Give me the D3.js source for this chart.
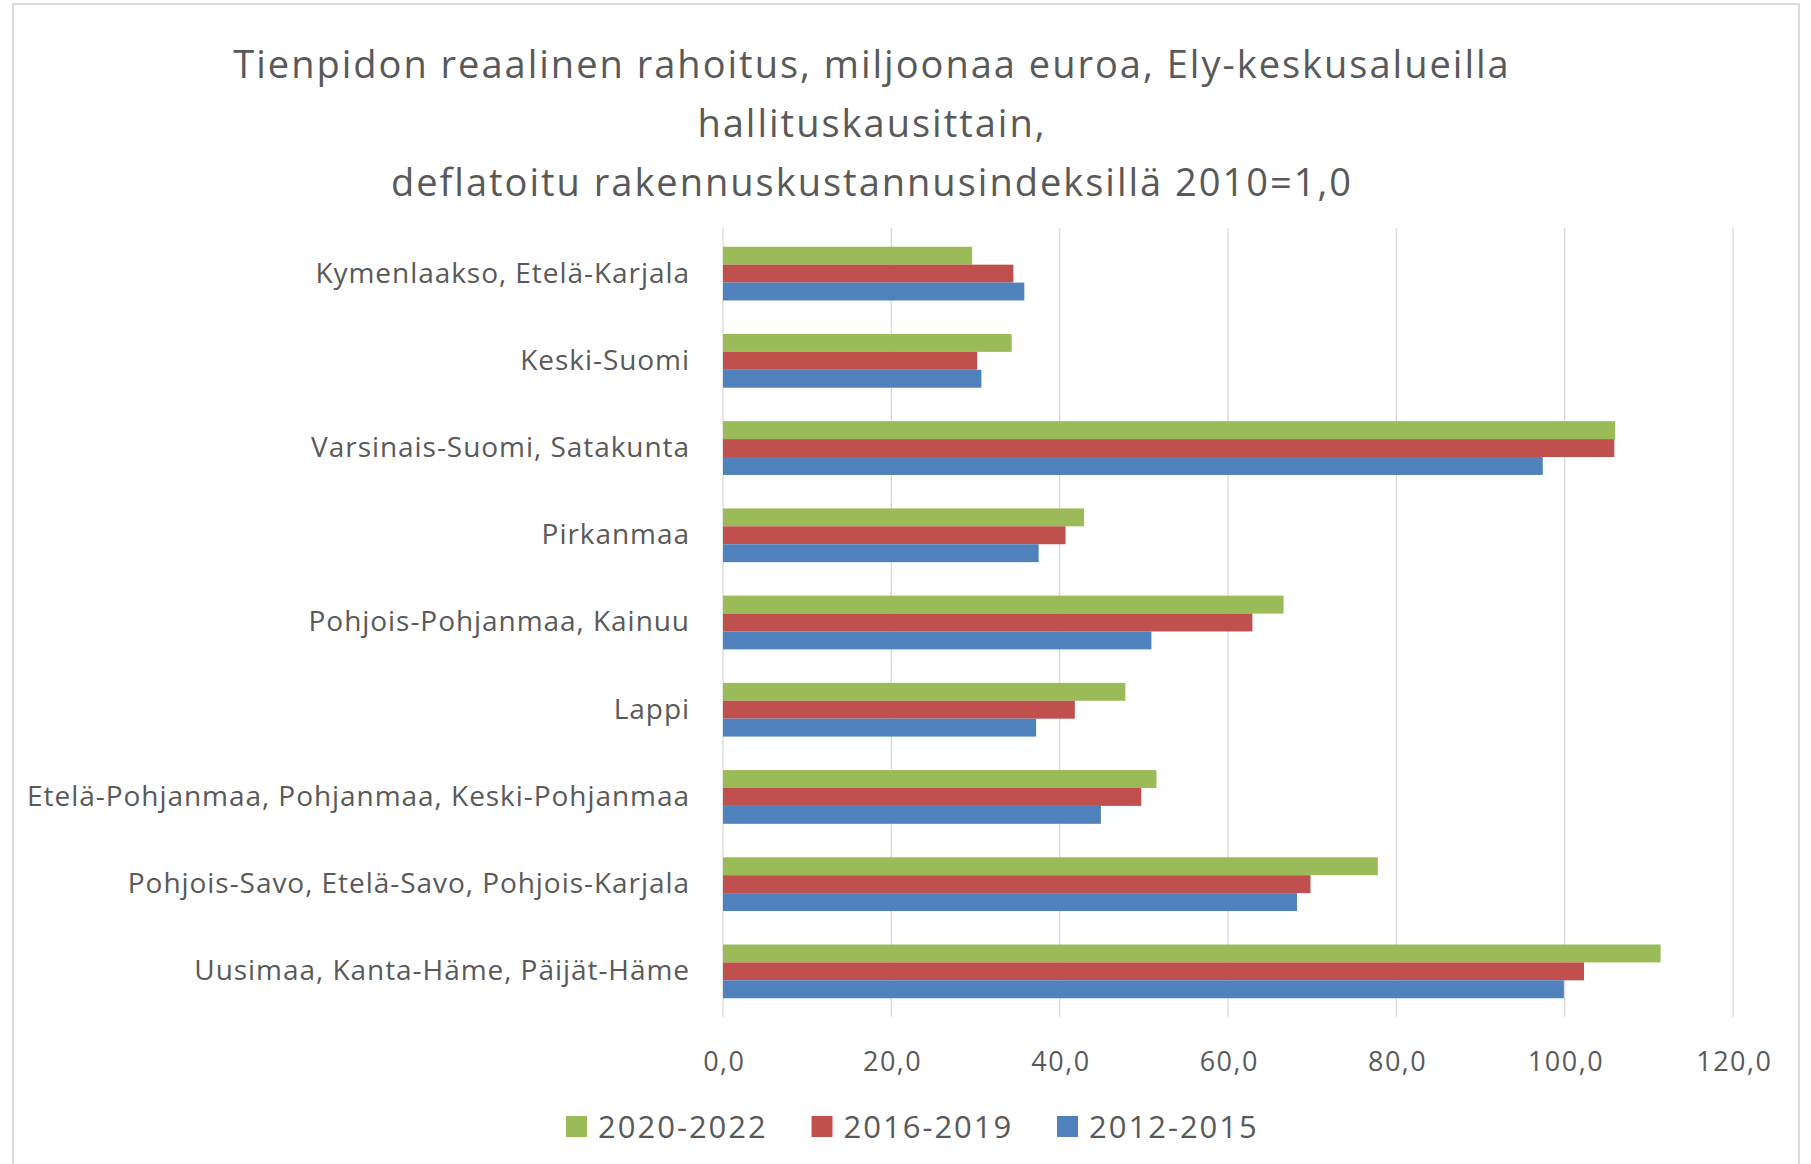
<!DOCTYPE html>
<html>
<head>
<meta charset="utf-8">
<script src="https://cdn.jsdelivr.net/npm/d3@7"></script>
<style>
  body { margin: 0; background: #fff; }
  text { font-family: "Open Sans", "Noto Sans", sans-serif; fill: #595959; }
</style>
</head>
<body>
<div id="chart"></div>
<script>
// data (top to bottom as drawn)
const categories = [
  "Kymenlaakso, Etelä-Karjala",
  "Keski-Suomi",
  "Varsinais-Suomi, Satakunta",
  "Pirkanmaa",
  "Pohjois-Pohjanmaa, Kainuu",
  "Lappi",
  "Etelä-Pohjanmaa, Pohjanmaa, Keski-Pohjanmaa",
  "Pohjois-Savo, Etelä-Savo, Pohjois-Karjala",
  "Uusimaa, Kanta-Häme, Päijät-Häme"
];
const series = ["2020-2022", "2016-2019", "2012-2015"];
const values2020 = [29.6, 34.3, 106.0, 42.9, 66.6, 47.8, 51.5, 77.8, 111.4];
const values2016 = [34.5, 30.2, 105.9, 40.7, 62.9, 41.8, 49.7, 69.8, 102.3];
const values2012 = [35.8, 30.7, 97.4, 37.5, 50.9, 37.2, 44.9, 68.2, 99.9];
const xTicks = [0, 20, 40, 60, 80, 100, 120];
const titleLines = [
  "Tienpidon reaalinen rahoitus, miljoonaa euroa, Ely-keskusalueilla",
  "hallituskausittain,",
  "deflatoitu rakennuskustannusindeksillä 2010=1,0"
];

const colors = { "2020-2022": "#9BBB59", "2016-2019": "#C0504D", "2012-2015": "#4F81BD" };
const valuesBySeries = { "2020-2022": values2020, "2016-2019": values2016, "2012-2015": values2012 };

const width = 1811, height = 1164;
const plot = { left: 723, right: 1733, top: 230, bottom: 1015 };

const svg = d3.select("#chart").append("svg")
  .attr("width", width)
  .attr("height", height);

// chart frame
svg.append("rect")
  .attr("x", 13).attr("y", 4)
  .attr("width", 1786).attr("height", 1180)
  .attr("fill", "#fff")
  .attr("stroke", "#d0d0d0")
  .attr("stroke-width", 1.5);

// title
svg.append("g").selectAll("text")
  .data(titleLines)
  .join("text")
  .attr("x", 872)
  .attr("y", (d, i) => 78 + i * 59)
  .attr("text-anchor", "middle")
  .attr("font-size", 38)
  .attr("letter-spacing", 2)
  .text(d => d);

// scales
const x = d3.scaleLinear().domain([0, 120]).range([plot.left, plot.right]);
const y = d3.scaleBand().domain(categories)
  .range([plot.top, plot.bottom])
  .paddingInner(0.384)
  .paddingOuter(0.192);
const ySub = d3.scaleBand().domain(series).range([0, y.bandwidth()]);

// vertical gridlines
svg.append("g").selectAll("line")
  .data(xTicks)
  .join("line")
  .attr("x1", d => x(d)).attr("x2", d => x(d))
  .attr("y1", plot.top - 2).attr("y2", plot.bottom + 2)
  .attr("stroke", "#d9d9d9")
  .attr("stroke-width", 1.3);

// x axis labels
const xAxis = svg.append("g")
  .attr("transform", `translate(0,${plot.bottom + 56})`)
  .call(d3.axisBottom(x).tickValues(xTicks).tickSize(0)
    .tickFormat(d => d3.format(".1f")(d).replace(".", ",")));
xAxis.select(".domain").remove();
xAxis.selectAll("text")
  .attr("dy", 0)
  .attr("y", 0)
  .attr("dx", 0.8)
  .attr("font-size", 27)
  .attr("letter-spacing", 1.5)
  .attr("fill", "#595959")
  .style("font-family", "'Open Sans', sans-serif");

// category labels
const yAxis = svg.append("g")
  .attr("transform", `translate(${plot.left - 33},0)`)
  .call(d3.axisLeft(y).tickSize(0).tickPadding(0));
yAxis.select(".domain").remove();
yAxis.selectAll("text")
  .attr("font-size", 28)
  .attr("letter-spacing", 0.95)
  .attr("fill", "#595959")
  .style("font-family", "'Open Sans', sans-serif");

// bars
const groups = svg.append("g").selectAll("g")
  .data(categories)
  .join("g")
  .attr("transform", d => `translate(0,${y(d)})`);

groups.selectAll("rect")
  .data((c, i) => series.map(s => ({ s, v: valuesBySeries[s][i] })))
  .join("rect")
  .attr("x", x(0))
  .attr("y", d => ySub(d.s))
  .attr("width", d => x(d.v) - x(0))
  .attr("height", ySub.bandwidth())
  .attr("fill", d => colors[d.s]);

// legend
const legend = svg.append("g").selectAll("g")
  .data(series)
  .join("g")
  .attr("transform", (d, i) => `translate(${566 + i * 245.5},1116)`);
legend.append("rect")
  .attr("width", 21).attr("height", 21)
  .attr("fill", d => colors[d]);
legend.append("text")
  .attr("x", 32).attr("y", 22)
  .attr("font-size", 31)
  .attr("letter-spacing", 2)
  .text(d => d);
</script>
</body>
</html>
